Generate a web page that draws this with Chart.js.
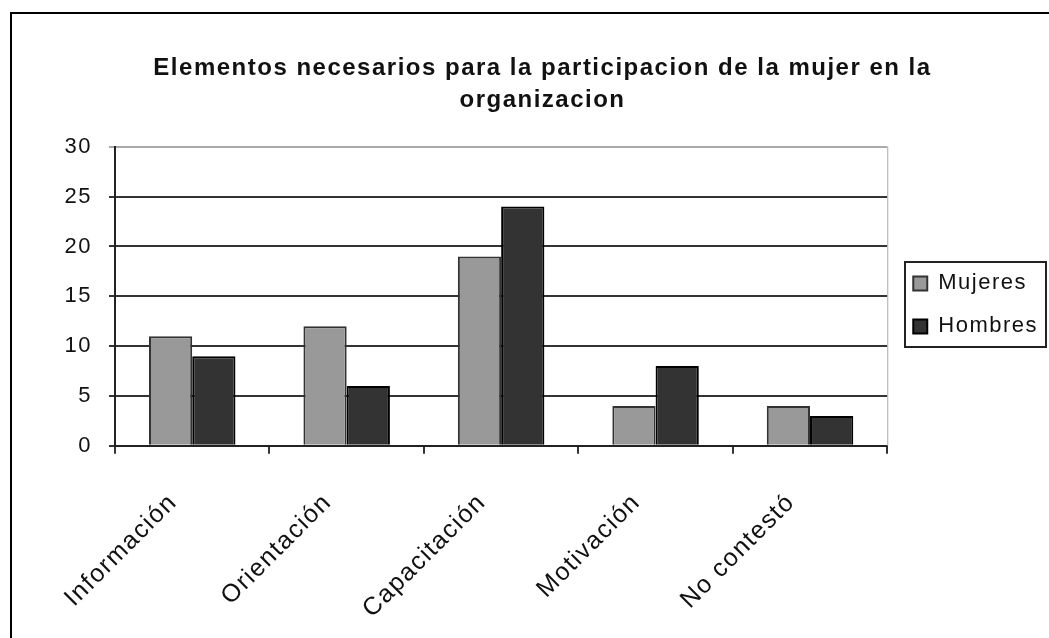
<!DOCTYPE html>
<html lang="es">
<head>
<meta charset="UTF-8">
<title>Elementos necesarios</title>
<script src="https://cdn.jsdelivr.net/npm/chart.js"></script>
<style>
  *{margin:0;padding:0;box-sizing:border-box}
  html,body{width:1049px;height:638px;background:#fff;overflow:hidden}
  .frame{position:absolute;left:10px;top:12px;width:1039px;height:626px;
    border-left:2px solid #000;border-top:2px solid #000}
  canvas{display:block}
</style>
</head>
<body>
<div class="frame"><canvas id="chart" width="1037" height="624"></canvas></div>
<script>
const categorias = ['Información', 'Orientación', 'Capacitación', 'Motivación', 'No contestó'];
const mujeres = [11, 12, 19, 4, 4];
const hombres = [9, 6, 24, 8, 3];
const tituloLineas = ['Elementos necesarios para la participacion de la mujer en la', 'organizacion'];

const FONT = '"Liberation Sans", Arial, sans-serif';

// wider letters like the old Excel render
const spacing = {
  id: 'spacing',
  beforeLayout(c) { c.ctx.letterSpacing = '1.5px'; },
  beforeDraw(c) { c.ctx.letterSpacing = '1.5px'; }
};

// legend frame + light plot border on the right
const extras = {
  id: 'extras',
  afterDraw(c) {
    const ctx = c.ctx, a = c.chartArea;
    ctx.save();
    ctx.strokeStyle = '#aaa';
    ctx.lineWidth = 1;
    ctx.beginPath();
    ctx.moveTo(a.right + 0.5, a.top);
    ctx.lineTo(a.right + 0.5, a.bottom);
    ctx.stroke();
    const hb = c.legend.legendHitBoxes;
    if (hb && hb.length) {
      let l = Infinity, t = Infinity, r = -Infinity, b = -Infinity;
      hb.forEach(h => {
        l = Math.min(l, h.left); t = Math.min(t, h.top);
        r = Math.max(r, h.left + h.width); b = Math.max(b, h.top + h.height);
      });
      ctx.strokeStyle = '#222';
      ctx.lineWidth = 2;
      ctx.strokeRect(Math.round(l - 8), Math.round(t - 10), Math.round(r - l + 16), Math.round(b - t + 20));
    }
    ctx.restore();
  }
};

new Chart(document.getElementById('chart'), {
  type: 'bar',
  data: {
    labels: categorias,
    datasets: [
      { label: 'Mujeres', data: mujeres, backgroundColor: '#999999', borderColor: '#333333', borderWidth: 2 },
      { label: 'Hombres', data: hombres, backgroundColor: '#333333', borderColor: '#000000', borderWidth: 2 }
    ]
  },
  options: {
    responsive: false,
    animation: false,
    layout: { padding: { left: 25, right: 1, bottom: -20 } },
    datasets: { bar: { barPercentage: 1, categoryPercentage: 0.56 } },
    plugins: {
      title: {
        display: true,
        text: tituloLineas,
        color: '#111',
        font: { family: FONT, size: 24, weight: 'bold', lineHeight: 1.35 },
        padding: { top: 38, bottom: 30 }
      },
      legend: {
        position: 'right',
        fullSize: false,
        title: { display: true, text: ' ', font: { size: 1 }, padding: { top: 8, bottom: 8 } },
        labels: {
          color: '#111',
          font: { family: FONT, size: 22 },
          boxWidth: 14, boxHeight: 14, padding: 21
        }
      },
      tooltip: { enabled: false }
    },
    scales: {
      x: {
        border: { color: '#222', width: 2 },
        grid: { drawOnChartArea: false, drawTicks: true, tickLength: 8, color: '#333', lineWidth: 2 },
        ticks: {
          color: '#111', minRotation: 45, maxRotation: 45, padding: 34, labelOffset: -19,
          font: { family: FONT, size: 25 }
        }
      },
      y: {
        min: 0, max: 30,
        afterFit(s) { s.width = 78; },
        border: { color: '#222', width: 2 },
        grid: {
          color: c => c.tick && c.tick.value === 30 ? '#aaa' : '#333',
          lineWidth: 2, tickLength: 6
        },
        ticks: { stepSize: 5, color: '#111', padding: 17, font: { family: FONT, size: 22 } }
      },
      gap: {
        position: 'right',
        afterFit(s) { s.width = 5; },
        ticks: { display: false },
        grid: { display: false },
        border: { display: false }
      }
    }
  },
  plugins: [spacing, extras]
});
</script>
</body>
</html>
